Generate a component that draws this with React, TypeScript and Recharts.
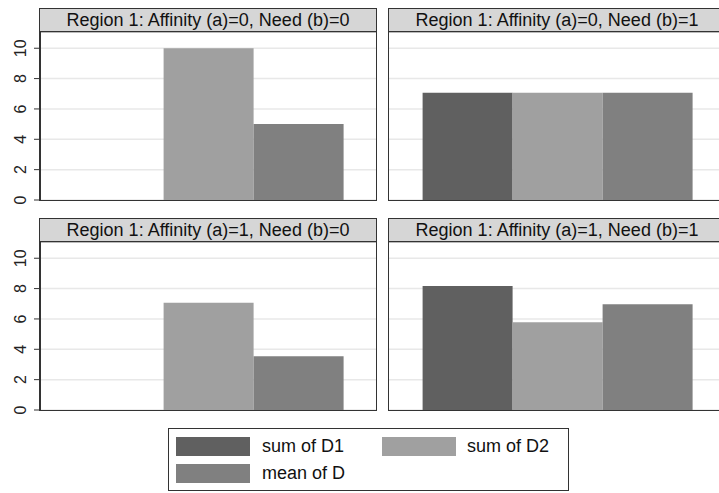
import { BarChart, Bar, XAxis, YAxis, CartesianGrid } from 'recharts'

const PANEL_TITLES = [
  'Region 1: Affinity (a)=0, Need (b)=0',
  'Region 1: Affinity (a)=0, Need (b)=1',
  'Region 1: Affinity (a)=1, Need (b)=0',
  'Region 1: Affinity (a)=1, Need (b)=1',
]
const SUM_D1 = [0, 7.07, 0, 8.17]
const SUM_D2 = [10, 7.07, 7.07, 5.78]
const MEAN_D = [5, 7.07, 3.535, 6.975]
const Y_TICKS = [0, 2, 4, 6, 8, 10]

const SERIES = [
  { key: 'd1', label: 'sum of D1', color: '#606060' },
  { key: 'd2', label: 'sum of D2', color: '#a0a0a0' },
  { key: 'mean', label: 'mean of D', color: '#808080' },
]

const FONT = '"Liberation Sans", Arial, Helvetica, sans-serif'
const PLOT_W = 336
const PLOT_H = 168
const AXIS_W = 40
const PAD_B = 12 // room under the plot so the "0" label is not clipped
const Y_MAX = 11.07

// grid slots: [plot left, header top]
const SLOTS = [
  [40, 8],
  [389, 8],
  [40, 218],
  [389, 218],
]

function RotatedTick(props: any) {
  const { x, y, payload } = props
  return (
    <text
      x={x}
      y={y}
      transform={`rotate(-90 ${x} ${y})`}
      textAnchor="middle"
      fontSize={16}
      fontFamily={FONT}
      fill="#222"
    >
      {payload.value}
    </text>
  )
}

function Panel({ index }: { index: number }) {
  const [left, top] = SLOTS[index]
  const showAxis = left < 100
  const data = [{ name: 'g', d1: SUM_D1[index], d2: SUM_D2[index], mean: MEAN_D[index] }]
  const chartLeft = showAxis ? left - AXIS_W : left
  const chartW = showAxis ? PLOT_W + AXIS_W : PLOT_W

  return (
    <>
      <div
        style={{
          position: 'absolute',
          left: left - 1,
          top,
          width: PLOT_W + 2,
          height: 25,
          boxSizing: 'border-box',
          border: '1px solid #333',
          background: '#d6d6d6',
          fontFamily: FONT,
          fontSize: 18,
          color: '#111',
          textAlign: 'center',
          lineHeight: '23px',
          whiteSpace: 'nowrap',
        }}
      >
        {PANEL_TITLES[index]}
      </div>
      <div style={{ position: 'absolute', left: chartLeft, top: top + 24 }}>
        <BarChart
          width={chartW}
          height={PLOT_H + PAD_B}
          data={data}
          margin={{ top: 0, right: 0, bottom: PAD_B, left: 0 }}
          barCategoryGap="10%"
          barGap={0}
        >
          <CartesianGrid horizontal vertical={false} stroke="#e8e8e8" strokeWidth={1.5} />
          <XAxis dataKey="name" type="category" hide />
          <YAxis
            domain={[0, Y_MAX]}
            ticks={Y_TICKS}
            width={AXIS_W}
            hide={!showAxis}
            axisLine={false}
            tickLine={{ stroke: '#333' }}
            tickSize={6}
            tickMargin={8}
            tick={<RotatedTick />}
            interval={0}
          />
          {SERIES.map((s) => (
            <Bar key={s.key} dataKey={s.key} fill={s.color} isAnimationActive={false} />
          ))}
        </BarChart>
      </div>
      <div
        style={{
          position: 'absolute',
          left: left - 1,
          top: top + 23,
          width: PLOT_W + 2,
          height: PLOT_H + 2,
          boxSizing: 'border-box',
          border: '1px solid #333',
          borderLeft: showAxis ? '2px solid #333' : '1px solid #333',
          pointerEvents: 'none',
        }}
      />
    </>
  )
}

function LegendBox() {
  const items = [
    { s: SERIES[0], x: 176, y: 437, tx: 262 },
    { s: SERIES[1], x: 382, y: 437, tx: 467 },
    { s: SERIES[2], x: 176, y: 464, tx: 262 },
  ]
  return (
    <>
      <div
        style={{
          position: 'absolute',
          left: 168,
          top: 428,
          width: 401,
          height: 63,
          boxSizing: 'border-box',
          border: '1px solid #333',
        }}
      />
      {items.map(({ s, x, y, tx }) => (
        <div key={s.key}>
          <div style={{ position: 'absolute', left: x, top: y, width: 74, height: 19, background: s.color }} />
          <div
            style={{
              position: 'absolute',
              left: tx,
              top: y,
              height: 19,
              lineHeight: '19px',
              fontFamily: FONT,
              fontSize: 18,
              color: '#111',
              whiteSpace: 'nowrap',
            }}
          >
            {s.label}
          </div>
        </div>
      ))}
    </>
  )
}

export default function App() {
  return (
    <div style={{ position: 'relative', width: 719, height: 493, overflow: 'hidden', background: '#fff' }}>
      <style>{'body{margin:0}'}</style>
      {PANEL_TITLES.map((_, i) => (
        <Panel key={i} index={i} />
      ))}
      <LegendBox />
    </div>
  )
}
